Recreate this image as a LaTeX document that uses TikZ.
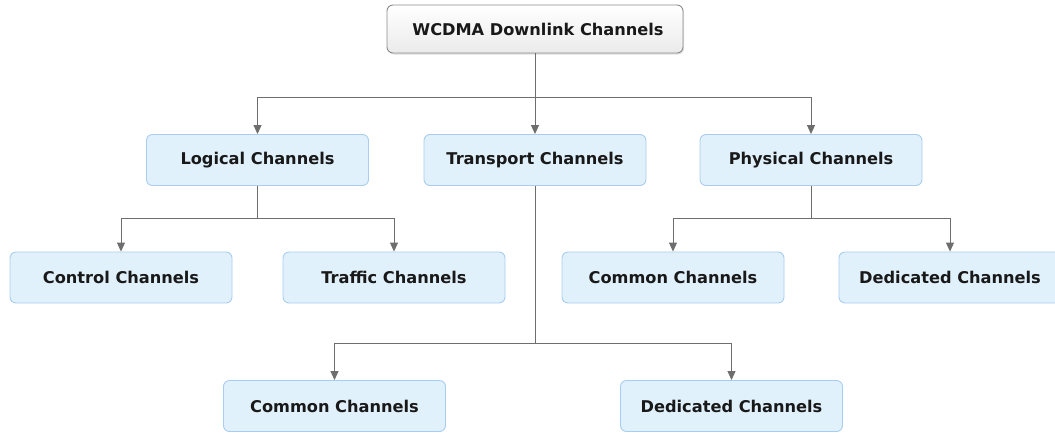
\documentclass[tikz,border=0pt]{standalone}
\usepackage{fontspec}
\setmainfont{DejaVu Sans}
\usetikzlibrary{arrows.meta,shadows}
\definecolor{boxfill}{HTML}{E1F1FC}
\definecolor{boxline}{HTML}{A9CDF0}
\definecolor{wire}{HTML}{6E6E6E}
\begin{document}
\begin{tikzpicture}[x=1pt,y=-1pt,
  chan/.style={draw=boxline, fill=boxfill, line width=0.9pt, rounded corners=6pt,
    minimum width=222pt, minimum height=51pt, font=\bfseries\fontsize{16.2}{18}\selectfont, text=black!90},
  rootbox/.style={draw=black!45, top color=white, bottom color=black!8, line width=0.9pt,
    rounded corners=6pt, minimum width=296pt, minimum height=48pt,
    drop shadow={opacity=0.25, shadow xshift=1pt, shadow yshift=-1.5pt},
    font=\bfseries\fontsize{16.2}{18}\selectfont, text=black!90},
  link/.style={draw=wire, line width=0.9pt},
  arr/.style={link, -{Triangle[length=9pt,width=8pt]}}]
\useasboundingbox (0,0) rectangle (1055,432);
\node[rootbox] (root) at (535,29) {\hspace{6pt}WCDMA Downlink Channels};
\node[chan] (log) at (257.5,160) {Logical Channels};
\node[chan] (tra) at (535,160) {Transport Channels};
\node[chan] (phy) at (811,160) {Physical Channels};
\node[chan] (ctl) at (121,277.5) {Control Channels};
\node[chan] (trf) at (394,277.5) {Traffic Channels};
\node[chan] (pcom) at (673,277.5) {Common Channels};
\node[chan] (pded) at (950,277.5) {Dedicated Channels};
\node[chan] (tcom) at (334.5,406) {Common Channels};
\node[chan] (tded) at (731.5,406) {Dedicated Channels};
% root fan-out
\coordinate (r0) at (535,97);
\draw[link] (root.south) -- (r0);
\draw[arr] (r0) -| (log.north);
\draw[arr] (r0) -- (tra.north);
\draw[arr] (r0) -| (phy.north);
% logical channels
\coordinate (l0) at (257.5,218);
\draw[link] (log.south) -- (l0);
\draw[arr] (l0) -| (ctl.north);
\draw[arr] (l0) -| (trf.north);
% physical channels
\coordinate (p0) at (811,218);
\draw[link] (phy.south) -- (p0);
\draw[arr] (p0) -| (pcom.north);
\draw[arr] (p0) -| (pded.north);
% transport channels
\coordinate (t0) at (535,343);
\draw[link] (tra.south) -- (t0);
\draw[arr] (t0) -| (tcom.north);
\draw[arr] (t0) -| (tded.north);
\end{tikzpicture}
\end{document}
